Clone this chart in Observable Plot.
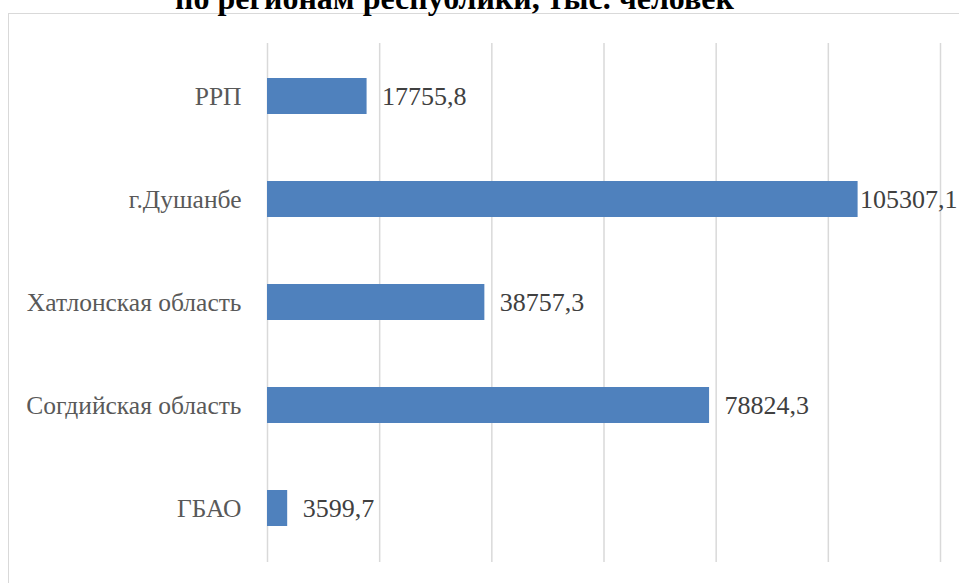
<!DOCTYPE html>
<html>
<head>
<meta charset="utf-8">
<script src="https://cdn.jsdelivr.net/npm/d3@7"></script>
<script src="https://cdn.jsdelivr.net/npm/@observablehq/plot@0.6"></script>
<style>
  html, body { margin: 0; padding: 0; background: #fff; overflow: hidden; }
  #wrap { position: relative; width: 959px; height: 583px; overflow: hidden; }
  #title { position: absolute; left: 175px; top: -18px; font-family: 'Liberation Serif', serif; font-weight: bold; font-size: 32px; line-height: 32px; color: #000; white-space: nowrap; }
  #frame { position: absolute; left: 8px; top: 13px; width: 1000px; height: 700px; border: 1.5px solid #d9d9d9; box-sizing: border-box; }
  #chart { position: absolute; left: 0; top: 0; }
  #chart svg text { font-family: 'Liberation Serif', serif !important; }
</style>
</head>
<body>
<div id="wrap">
  <div id="frame"></div>
  <div id="title">по регионам республики, тыс. человек</div>
  <div id="chart"></div>
</div>
<script>
const regions = ["РРП", "г.Душанбе", "Хатлонская область", "Согдийская область", "ГБАО"];
const values = [17755.8, 105307.1, 38757.3, 78824.3, 3599.7];
const gridTicks = [0, 20000, 40000, 60000, 80000, 100000, 120000];

const data = regions.map((r, i) => ({region: r, value: values[i]}));
const fmt = v => v.toFixed(1).replace(".", ",");
const maxV = d3.max(values);

const chart = Plot.plot({
  width: 959,
  height: 583,
  marginLeft: 267,
  marginRight: 19,
  marginTop: 43,
  marginBottom: 21,
  style: "font-family: 'Liberation Serif', serif; background: transparent; overflow: visible;",
  x: {domain: [0, 120000], axis: null},
  y: {domain: regions, paddingInner: 0.65, paddingOuter: 0.325, label: null},
  marks: [
    Plot.ruleX(gridTicks, {x: d => d, stroke: "#d9d9d9", strokeWidth: 1.5}),
    Plot.barX(data, {x: "value", y: "region", fill: "#4f81bd"}),
    Plot.text(data.filter(d => d.value !== maxV), {x: "value", y: "region", text: d => fmt(d.value), textAnchor: "start", dx: 15, fontSize: 26, fontFamily: "Liberation Serif", fill: "#404040"}),
    Plot.text(data.filter(d => d.value === maxV), {x: "value", y: "region", text: d => fmt(d.value), textAnchor: "start", dx: 2, fontSize: 26, fontFamily: "Liberation Serif", fill: "#404040"}),
    Plot.axisY({tickSize: 0, tickPadding: 26, fontSize: 25.5, fontFamily: "Liberation Serif", fill: "#595959", label: null})
  ]
});
document.getElementById("chart").appendChild(chart);
</script>
</body>
</html>
